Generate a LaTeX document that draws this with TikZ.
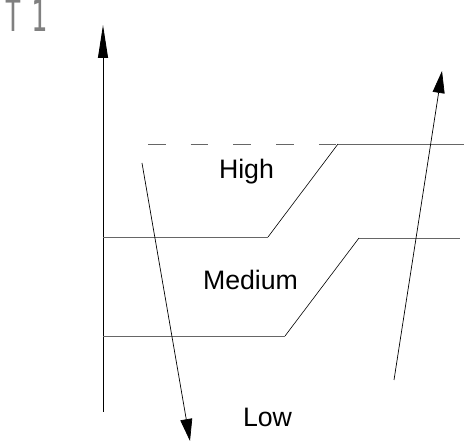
\documentclass[tikz,border=0pt]{standalone}
\usepackage{fontspec}
\setmainfont{Liberation Sans}
\newfontfamily\titlemono{DejaVu Sans Mono}
\usetikzlibrary{arrows.meta}

\begin{document}
\begin{tikzpicture}[
    x=1pt, y=-1pt,
    level/.style={draw=black!60, line width=0.9pt},
    ramp/.style={draw=black, line width=0.6pt},
    trend/.style={draw=black, line width=0.7pt, -{Triangle[length=22pt,width=12pt]}},
    axis/.style={draw=black, line width=0.9pt, -{Triangle[length=33pt,width=10pt]}},
    zone/.style={font=\fontsize{26.7}{30}\selectfont, inner sep=0pt, anchor=base}
  ]
  \useasboundingbox (0,0) rectangle (464,443);

  % Title
  \node[anchor=base west, inner sep=0pt, text=black!50, font=\titlemono\fontsize{44}{48}\selectfont] (title) at (5,32) {\scalebox{0.6}[1]{T\kern18pt1}};

  % Axis
  \coordinate (ax0) at (103,412);
  \coordinate (ax1) at (103,25);
  \draw[axis] (ax0) -- (ax1);

  % Upper boundary
  \coordinate (hd) at (148,144);
  \coordinate (h0) at (103,237);
  \coordinate (h1) at (268,237);
  \coordinate (h2) at (338,144);
  \coordinate (h3) at (464,144);
  \draw[level, dash pattern=on 17.5pt off 25.2pt] (hd) -- (h2);
  \draw[level] (h0) -- (h1);
  \draw[ramp] (h1) -- (h2);
  \draw[level] (h2) -- (h3);

  % Lower boundary
  \coordinate (m0) at (103,336);
  \coordinate (m1) at (285,336);
  \coordinate (m2) at (359,238);
  \coordinate (m3) at (460,238);
  \draw[level] (m0) -- (m1);
  \draw[ramp] (m1) -- (m2);
  \draw[level] (m2) -- (m3);

  % Zones
  \node[zone] (high) at (246.5,179) {High};
  \node[zone] (medium) at (250.5,290) {Medium};
  \node[zone] (low) at (267.5,427) {Low};

  % Trends
  \coordinate (d0) at (142,163);
  \coordinate (d1) at (190,441);
  \draw[trend] (d0) -- (d1);
  \coordinate (u0) at (394,380);
  \coordinate (u1) at (442,71);
  \draw[trend] (u0) -- (u1);
\end{tikzpicture}
\end{document}
